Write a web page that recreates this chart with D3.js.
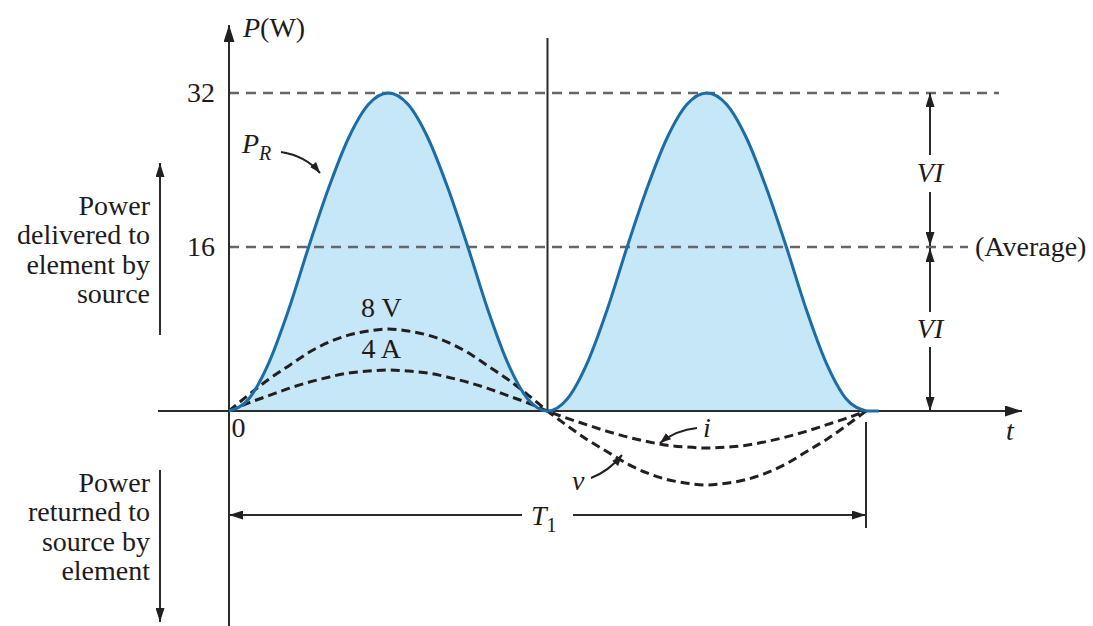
<!DOCTYPE html>
<html>
<head>
<meta charset="utf-8">
<script src="https://cdn.jsdelivr.net/npm/d3@7"></script>
<style>
  html, body { margin: 0; padding: 0; background: #fff; }
  svg text { font-family: "Liberation Serif", "Times New Roman", serif; fill: #1e1b1c; }
</style>
</head>
<body>
<svg id="chart" width="1093" height="626" font-family="Liberation Serif, serif"></svg>
<script>
// Time as a fraction of the period T1 (32 steps per period)
const periodT = [0, 0.03125, 0.0625, 0.09375, 0.125, 0.15625, 0.1875, 0.21875, 0.25,
  0.28125, 0.3125, 0.34375, 0.375, 0.40625, 0.4375, 0.46875, 0.5,
  0.53125, 0.5625, 0.59375, 0.625, 0.65625, 0.6875, 0.71875, 0.75,
  0.78125, 0.8125, 0.84375, 0.875, 0.90625, 0.9375, 0.96875, 1];

// Instantaneous power delivered to the resistor (W)
const powerW = [0, 1.2, 4.7, 9.9, 16, 22.1, 27.3, 30.8, 32,
  30.8, 27.3, 22.1, 16, 9.9, 4.7, 1.2, 0,
  1.2, 4.7, 9.9, 16, 22.1, 27.3, 30.8, 32,
  30.8, 27.3, 22.1, 16, 9.9, 4.7, 1.2, 0];

// Voltage across the resistor (V)
const voltageV = [0, 1.6, 3.1, 4.4, 5.7, 6.7, 7.4, 7.8, 8,
  7.8, 7.4, 6.7, 5.7, 4.4, 3.1, 1.6, 0,
  -1.6, -3.1, -4.4, -5.7, -6.7, -7.4, -7.8, -8,
  -7.8, -7.4, -6.7, -5.7, -4.4, -3.1, -1.6, 0];

// Current through the resistor (A)
const currentA = [0, 0.8, 1.5, 2.2, 2.8, 3.3, 3.7, 3.9, 4,
  3.9, 3.7, 3.3, 2.8, 2.2, 1.5, 0.8, 0,
  -0.8, -1.5, -2.2, -2.8, -3.3, -3.7, -3.9, -4,
  -3.9, -3.7, -3.3, -2.8, -2.2, -1.5, -0.8, 0];

const yTickValues = [16, 32];
const yTickLabels = ["16", "32"];
const xTickValues = [0];
const xTickLabels = ["0"];
const peakLabels = ["8 V", "4 A"];
const peakValues = [8, 4];
const deliveredLines = ["Power", "delivered to", "element by", "source"];
const returnedLines = ["Power", "returned to", "source by", "element"];

const svg = d3.select("#chart");
const FS = 28;
const SERIF = "Liberation Serif, Times New Roman, serif";

const x = d3.scaleLinear().domain([0, 1]).range([229, 866]);
const y = d3.scaleLinear().domain([-8, 0, 16, 32]).range([485, 411, 247, 93]);

// Arrowhead markers
const defs = svg.append("defs");
function marker(id, len, wid, color) {
  defs.append("marker")
    .attr("id", id)
    .attr("markerUnits", "userSpaceOnUse")
    .attr("markerWidth", len).attr("markerHeight", wid)
    .attr("refX", len).attr("refY", wid / 2)
    .attr("orient", "auto-start-reverse")
    .append("path")
    .attr("d", `M0,0 L${len},${wid / 2} L0,${wid} Z`)
    .attr("fill", color);
}
marker("big", 17, 11, "#231f20");
marker("mid", 14, 9, "#231f20");
marker("small", 11, 8, "#231f20");

const pts = periodT.map((t, i) => ({ t, p: powerW[i], v: voltageV[i], c: currentA[i] }));

// Shaded power curve
svg.append("path")
  .datum(pts)
  .attr("fill", "#c6e7f7")
  .attr("d", d3.area().x(d => x(d.t)).y0(y(0)).y1(d => y(d.p)).curve(d3.curveMonotoneX));

// Reference levels (peak and average power)
svg.append("line")
  .attr("x1", x(0)).attr("x2", 999).attr("y1", y(32)).attr("y2", y(32))
  .attr("stroke", "#666").attr("stroke-width", 2.4).attr("stroke-dasharray", "10,7");
svg.append("line")
  .attr("x1", x(0)).attr("x2", 968).attr("y1", y(16)).attr("y2", y(16))
  .attr("stroke", "#666").attr("stroke-width", 2.4).attr("stroke-dasharray", "10,7");

// Axes lines
svg.append("line")
  .attr("x1", 158).attr("x2", 1022).attr("y1", y(0)).attr("y2", y(0))
  .attr("stroke", "#2b2b2b").attr("stroke-width", 2).attr("marker-end", "url(#big)");
svg.append("line")
  .attr("x1", x(0)).attr("x2", x(0)).attr("y1", 626).attr("y2", 25)
  .attr("stroke", "#2b2b2b").attr("stroke-width", 2).attr("marker-end", "url(#big)");
// Half-period divider
svg.append("line")
  .attr("x1", x(0.5)).attr("x2", x(0.5)).attr("y1", 38).attr("y2", y(0))
  .attr("stroke", "#2b2b2b").attr("stroke-width", 2);

// Voltage and current curves
const lineV = d3.line().x(d => x(d.t)).y(d => y(d.v)).curve(d3.curveMonotoneX);
const lineI = d3.line().x(d => x(d.t)).y(d => y(d.c)).curve(d3.curveMonotoneX);
[lineV, lineI].forEach(gen => {
  svg.append("path").datum(pts)
    .attr("fill", "none").attr("stroke", "#231f20").attr("stroke-width", 3)
    .attr("stroke-dasharray", "9,5").attr("d", gen);
});

// Power curve outline
svg.append("path")
  .datum(pts)
  .attr("fill", "none").attr("stroke", "#1c6da6").attr("stroke-width", 3)
  .attr("d", d3.line().x(d => x(d.t)).y(d => y(d.p)).curve(d3.curveMonotoneX));
svg.append("line")
  .attr("x1", x(1)).attr("x2", x(1.02)).attr("y1", y(0)).attr("y2", y(0))
  .attr("stroke", "#1c6da6").attr("stroke-width", 3);

// Y tick labels
const yAxis = svg.append("g")
  .attr("transform", `translate(${x(0)},0)`)
  .call(d3.axisLeft(y).tickValues(yTickValues).tickSize(0).tickPadding(14)
    .tickFormat((d, i) => yTickLabels[i]));
yAxis.select(".domain").remove();
yAxis.attr("font-family", SERIF).attr("font-size", FS);
yAxis.selectAll("text").attr("fill", "#1e1b1c");

// X tick label
const xAxis = svg.append("g")
  .attr("transform", `translate(0,${y(0)})`)
  .call(d3.axisBottom(x).tickValues(xTickValues).tickSize(0).tickPadding(6)
    .tickFormat((d, i) => xTickLabels[i]));
xAxis.select(".domain").remove();
xAxis.attr("font-family", SERIF).attr("font-size", FS);
xAxis.selectAll("text").attr("fill", "#1e1b1c")
  .attr("text-anchor", "start").attr("dx", 2);

// Helper for plain text labels
function label(xp, yp, anchor) {
  return svg.append("text").attr("x", xp).attr("y", yp)
    .attr("font-family", SERIF).attr("font-size", FS)
    .attr("text-anchor", anchor || "start");
}

// Axis titles
const pw = label(243, 37);
pw.append("tspan").attr("font-style", "italic").text("P");
pw.append("tspan").text("(W)");

label(1010, 440, "middle").attr("font-style", "italic").text("t");

// Curve labels
const pr = label(242, 153).attr("font-style", "italic");
pr.append("tspan").text("P");
pr.append("tspan").attr("font-size", 20).attr("dy", 7).text("R");
svg.append("path").attr("d", "M281,152 Q306,156 320,173")
  .attr("fill", "none").attr("stroke", "#231f20").attr("stroke-width", 2).attr("marker-end", "url(#small)");

peakLabels.forEach((lab, i) => {
  label(x(0.25) - 7, y(peakValues[i]) - 12, "middle").text(lab);
});

label(703, 437).attr("font-style", "italic").text("i");
svg.append("path").attr("d", "M697,428 Q676,430 660,443")
  .attr("fill", "none").attr("stroke", "#231f20").attr("stroke-width", 2).attr("marker-end", "url(#small)");

label(572, 490).attr("font-style", "italic").text("v");
svg.append("path").attr("d", "M591,478 Q609,471 622,455")
  .attr("fill", "none").attr("stroke", "#231f20").attr("stroke-width", 2).attr("marker-end", "url(#small)");

// VI dimension arrows
const vx = 930;
function vSeg(y1, y2) {
  svg.append("line").attr("x1", vx).attr("x2", vx).attr("y1", y1).attr("y2", y2)
    .attr("stroke", "#2b2b2b").attr("stroke-width", 2).attr("marker-end", "url(#mid)");
}
vSeg(155, y(32));
vSeg(192, y(16) - 1);
vSeg(312, y(16) + 1);
vSeg(347, y(0));
[182, 338].forEach(by => {
  label(vx, by, "middle").attr("font-style", "italic").text("VI");
});
label(975, 256).text("(Average)");

// Period dimension
svg.append("line").attr("x1", x(1)).attr("x2", x(1)).attr("y1", 422).attr("y2", 528)
  .attr("stroke", "#2b2b2b").attr("stroke-width", 2);
svg.append("line").attr("x1", 522).attr("x2", x(0)).attr("y1", 515).attr("y2", 515)
  .attr("stroke", "#2b2b2b").attr("stroke-width", 2).attr("marker-end", "url(#mid)");
svg.append("line").attr("x1", 573).attr("x2", x(1)).attr("y1", 515).attr("y2", 515)
  .attr("stroke", "#2b2b2b").attr("stroke-width", 2).attr("marker-end", "url(#mid)");
const t1 = label(531, 525);
t1.append("tspan").attr("font-style", "italic").text("T");
t1.append("tspan").attr("font-size", 20).attr("dy", 7).text("1");

// Side annotations
svg.append("line").attr("x1", 160).attr("x2", 160).attr("y1", 335).attr("y2", 163)
  .attr("stroke", "#2b2b2b").attr("stroke-width", 2).attr("marker-end", "url(#mid)");
svg.append("line").attr("x1", 160).attr("x2", 160).attr("y1", 470).attr("y2", 622)
  .attr("stroke", "#2b2b2b").attr("stroke-width", 2).attr("marker-end", "url(#mid)");

function block(lines, y0) {
  const tx = label(150, y0, "end");
  lines.forEach((ln, i) => {
    tx.append("tspan").attr("x", 150).attr("y", y0 + i * 29.3).text(ln);
  });
}
block(deliveredLines, 215);
block(returnedLines, 492);
</script>
</body>
</html>
